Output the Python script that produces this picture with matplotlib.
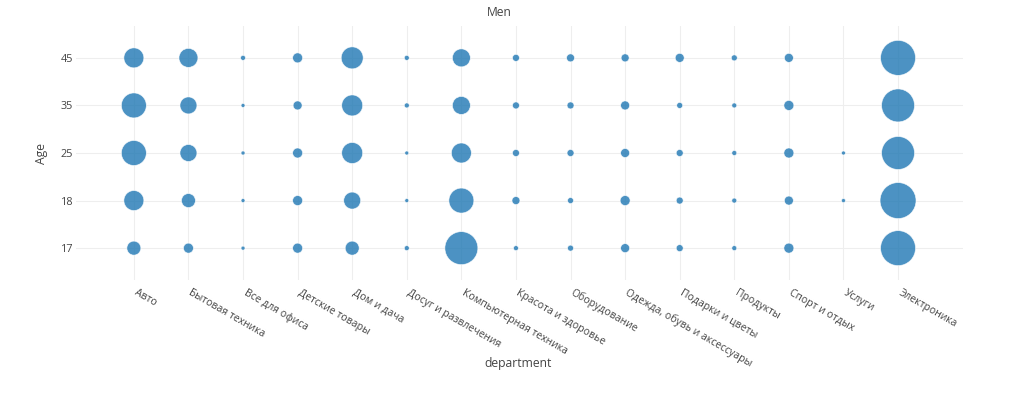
import numpy as np
import matplotlib
matplotlib.use("Agg")
import matplotlib.pyplot as plt
from matplotlib.transforms import ScaledTranslation

# ── Data ────────────────────────────────────────────────────────────────────────
departments = ["Авто", "Бытовая техника", "Все для офиса", "Детские товары",
               "Дом и дача", "Досуг и развлечения", "Компьютерная техника",
               "Красота и здоровье", "Оборудование", "Одежда, обувь и аксессуары",
               "Подарки и цветы", "Продукты", "Спорт и отдых", "Услуги", "Электроника"]
ages = ["17", "18", "25", "35", "45"]

# purchase counts per age group (rows) and department (columns); nan = no data
counts_17 = [140, 100, 40, 100, 140, 50, 330, 50, 60, 90, 70, 50, 100, np.nan, 350]
counts_18 = [200, 140, 40, 100, 170, 40, 250, 80, 60, 100, 70, 50, 90, 40, 360]
counts_25 = [250, 170, 40, 100, 210, 40, 200, 70, 70, 90, 70, 50, 100, 40, 330]
counts_35 = [250, 170, 40, 90, 210, 50, 180, 70, 70, 90, 60, 50, 100, np.nan, 330]
counts_45 = [200, 190, 50, 100, 220, 50, 180, 70, 80, 80, 90, 60, 90, np.nan, 350]

# ── Config ──────────────────────────────────────────────────────────────────────
W, H = 1030, 400
AX_L, AX_R, AX_T, AX_B = 76, 963, 26, 280   # plot area in pixels
PX_PER_COUNT = 0.1                           # bubble diameter (px) per count
FONT = "Open Sans"
TXT = "#444444"

plt.rcParams["font.family"] = [FONT, "DejaVu Sans"]


def main():
    fig = plt.figure(figsize=(W / 100, H / 100), dpi=100)
    ax = fig.add_axes([AX_L / W, 1 - AX_B / H, (AX_R - AX_L) / W, (AX_B - AX_T) / H])

    rows = [counts_17, counts_18, counts_25, counts_35, counts_45]
    xi = np.arange(len(departments))
    for yi, row in enumerate(rows):
        vals = np.array(row, dtype=float)
        ok = ~np.isnan(vals)
        diam_pt = vals[ok] * PX_PER_COUNT * 0.72
        ax.scatter(xi[ok], np.full(ok.sum(), yi), s=diam_pt ** 2,
                   color="#1f77b4", alpha=0.8, edgecolors="white",
                   linewidths=0.5, zorder=3)

    ax.set_xlim(-1.06, len(departments) - 1 + 1.19)
    ax.set_ylim(-0.67, len(ages) - 1 + 0.67)
    ax.set_xticks(xi)
    ax.set_xticklabels([])
    # department labels: rotated, starting right at each tick
    lbl_tr = ax.get_xaxis_transform() + ScaledTranslation(4 / 100, -7 / 100, fig.dpi_scale_trans)
    for x, name in zip(xi, departments):
        ax.text(x, 0, name, transform=lbl_tr, rotation=-30, ha="left", va="top",
                rotation_mode="anchor", fontsize=7.5, color=TXT)
    ax.set_yticks(np.arange(len(ages)))
    ax.set_yticklabels(ages, fontsize=7.8, color=TXT)
    ax.tick_params(axis="both", length=0)
    ax.tick_params(axis="y", pad=2)
    for s in ax.spines.values():
        s.set_visible(False)
    ax.grid(True, color="#eeeeee", linewidth=0.8, zorder=0)
    ax.set_axisbelow(True)

    fig.text(41 / W, 1 - 153 / H, "Age", rotation=90, ha="center", va="center",
             fontsize=8.7, color=TXT)
    fig.text(518 / W, 1 - 363 / H, "department", ha="center", va="center",
             fontsize=8.7, color=TXT)
    fig.text(499 / W, 1 - 12 / H, "Men", ha="center", va="center",
             fontsize=8.7, color=TXT)

    fig.savefig("out.png", dpi=100)


if __name__ == "__main__":
    main()
